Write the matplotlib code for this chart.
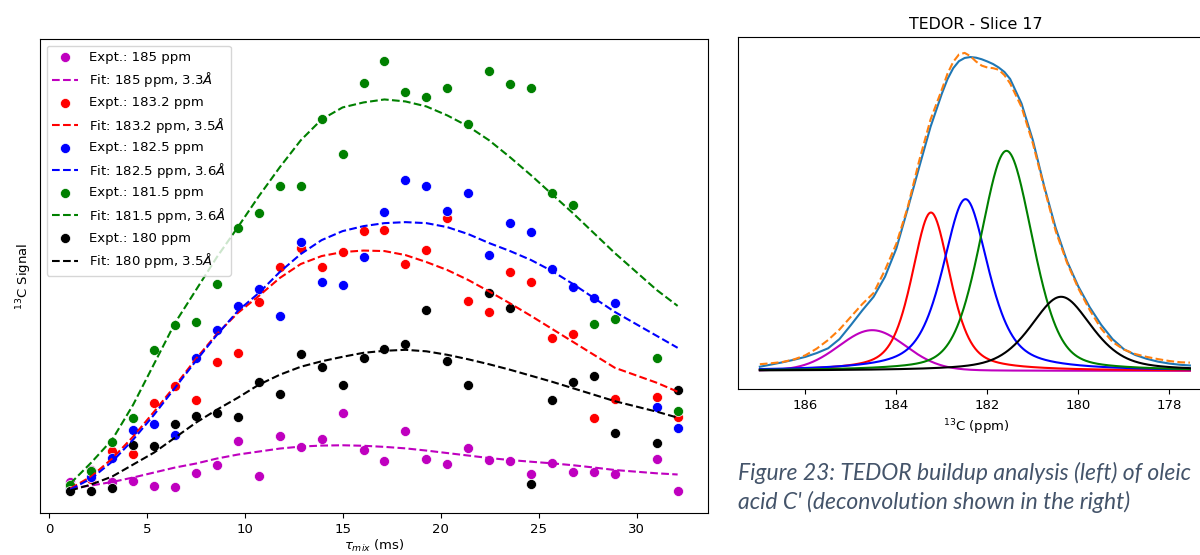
import numpy as np
import matplotlib
matplotlib.use("Agg")
import matplotlib.pyplot as plt

plt.rcParams["font.size"] = 9.5

# TEDOR mixing times (ms)
tau = [1.07, 2.14, 3.21, 4.28, 5.35, 6.42, 7.49, 8.56, 9.63, 10.70,
       11.77, 12.84, 13.91, 14.98, 16.05, 17.12, 18.19, 19.26, 20.33, 21.40,
       22.47, 23.54, 24.61, 25.68, 26.75, 27.82, 28.89, 31.03, 32.10]

# measured buildup per peak
expt_185 = [0.173, 0.30, 0.177, 0.183, 0.133, 0.123, 0.267, 0.347, 0.583, 0.23,
            0.633, 0.527, 0.607, 0.867, 0.497, 0.383, 0.69, 0.41, 0.357, 0.517,
            0.40, 0.39, 0.257, 0.363, 0.277, 0.277, 0.25, 0.403, 0.083]
expt_1832 = [0.13, 0.207, 0.483, 0.46, 0.967, 1.14, 1.00, 1.373, 1.467, 1.977,
             2.333, 2.517, 2.333, 2.48, 2.69, 2.70, 2.357, 2.50, 2.817, 1.99,
             1.883, 2.277, 2.18, 1.623, 1.657, 0.817, 1.01, 1.027, 0.823]
expt_1825 = [0.11, 0.22, 0.417, 0.70, 0.757, 0.643, 1.417, 1.70, 1.94, 2.107,
             1.84, 2.577, 2.183, 2.153, 2.433, 2.877, 3.207, 3.147, 2.887, 3.077,
             2.45, 2.77, 2.677, 2.31, 2.133, 2.023, 1.97, 0.93, 0.717]
expt_1815 = [0.14, 0.29, 0.573, 0.817, 1.50, 1.75, 1.777, 2.16, 2.723, 2.867,
             3.14, 3.147, 3.81, 3.46, 4.177, 4.40, 4.08, 4.03, 4.127, 3.76,
             4.293, 4.167, 4.127, 3.077, 2.953, 1.76, 1.807, 1.42, 0.883]
expt_180 = [0.08, 0.08, 0.11, 0.543, 0.537, 0.757, 0.833, 0.863, 0.827, 1.18,
            1.057, 1.46, 1.323, 1.15, 1.413, 1.507, 1.557, 1.903, 1.39, 1.15,
            2.073, 1.923, 0.15, 1.00, 1.18, 1.237, 0.67, 0.567, 1.093]

# fitted buildup curves at the same mixing times
fit_185 = [0.11, 0.14, 0.175, 0.22, 0.27, 0.32, 0.36, 0.41, 0.45, 0.48,
           0.51, 0.53, 0.54, 0.543, 0.538, 0.527, 0.512, 0.49, 0.465, 0.44,
           0.415, 0.395, 0.378, 0.362, 0.343, 0.32, 0.295, 0.262, 0.25]
fit_1832 = [0.11, 0.23, 0.41, 0.63, 0.88, 1.14, 1.41, 1.66, 1.87, 2.04,
            2.22, 2.36, 2.44, 2.48, 2.495, 2.49, 2.45, 2.38, 2.30, 2.20,
            2.085, 1.965, 1.84, 1.71, 1.58, 1.45, 1.32, 1.17, 1.08]
fit_1825 = [0.10, 0.21, 0.38, 0.60, 0.85, 1.12, 1.39, 1.65, 1.89, 2.07,
            2.28, 2.46, 2.60, 2.69, 2.74, 2.77, 2.78, 2.77, 2.73, 2.66,
            2.57, 2.49, 2.40, 2.29, 2.16, 2.02, 1.88, 1.64, 1.52]
fit_1815 = [0.16, 0.37, 0.60, 0.95, 1.36, 1.77, 2.10, 2.43, 2.73, 3.04,
            3.33, 3.60, 3.81, 3.93, 3.98, 4.01, 3.99, 3.94, 3.85, 3.74,
            3.60, 3.43, 3.25, 3.06, 2.87, 2.67, 2.47, 2.10, 1.94]
fit_180 = [0.09, 0.15, 0.23, 0.35, 0.47, 0.62, 0.77, 0.90, 1.02, 1.15,
           1.25, 1.33, 1.385, 1.43, 1.47, 1.49, 1.50, 1.485, 1.45, 1.405,
           1.355, 1.30, 1.24, 1.18, 1.115, 1.05, 0.985, 0.88, 0.82]

peaks = ["185", "183.2", "182.5", "181.5", "180"]
dists = ["3.3", "3.5", "3.6", "3.6", "3.5"]
colors = ["m", "r", "b", "g", "k"]
expts = [expt_185, expt_1832, expt_1825, expt_1815, expt_180]
fits = [fit_185, fit_1832, fit_1825, fit_1815, fit_180]

# slice 17 spectrum: total and fitted sum
ppm_pts = [187.0, 186.75, 186.5, 186.25, 186.0, 185.75, 185.5, 185.25, 185.0, 184.75,
           184.5, 184.25, 184.0, 183.75, 183.5, 183.25, 183.0, 182.875, 182.75, 182.625,
           182.5, 182.375, 182.25, 182.125, 182.0, 181.875, 181.75, 181.625, 181.5, 181.25,
           181.0, 180.75, 180.5, 180.25, 180.0, 179.75, 179.5, 179.25, 179.0, 178.75,
           178.5, 178.25, 178.0, 177.75, 177.55]
spec_total = [0.013, 0.02, 0.027, 0.035, 0.044, 0.056, 0.071, 0.10, 0.144, 0.19,
              0.233, 0.296, 0.385, 0.51, 0.64, 0.767, 0.872, 0.918, 0.952, 0.974,
              0.984, 0.987, 0.985, 0.98, 0.973, 0.965, 0.954, 0.94, 0.918, 0.841,
              0.725, 0.58, 0.45, 0.345, 0.265, 0.20, 0.145, 0.10, 0.068, 0.05,
              0.038, 0.029, 0.023, 0.019, 0.017]
spec_fit = [0.021, 0.024, 0.028, 0.036, 0.049, 0.07, 0.097, 0.13, 0.17, 0.21,
            0.245, 0.317, 0.40, 0.515, 0.66, 0.79, 0.885, 0.935, 0.972, 0.995,
            1.0, 0.99, 0.973, 0.96, 0.954, 0.952, 0.947, 0.93, 0.904, 0.83,
            0.715, 0.575, 0.44, 0.34, 0.259, 0.191, 0.133, 0.091, 0.067, 0.053,
            0.044, 0.037, 0.031, 0.027, 0.026]

# deconvolution components (pseudo-Voigt): centre, height, fwhm, lorentz fraction
comp_center = [184.53, 183.24, 182.48, 181.58, 180.38]
comp_height = [0.128, 0.498, 0.54, 0.692, 0.233]
comp_fwhm = [1.75, 1.0, 1.2, 1.35, 1.6]
comp_eta = [0.1, 0.5, 0.6, 0.3, 0.5]


def pvoigt(x, c, h, w, eta):
    d = (x - c) / w
    lor = 1.0 / (1.0 + 4.0 * d ** 2)
    gau = np.exp(-4.0 * np.log(2) * d ** 2)
    return h * (eta * lor + (1 - eta) * gau)


fig = plt.figure(figsize=(12, 5.55), dpi=100)

ax = fig.add_axes([40 / 1200, 42 / 555, 668 / 1200, 474 / 555])
for p, d, c, e, f in zip(peaks, dists, colors, expts, fits):
    ax.scatter(tau, e, s=52, color=c, edgecolors="white", linewidths=0.5,
               label="Expt.: %s ppm" % p)
    ax.plot(tau, f, "--", color=c, label=r"Fit: %s ppm, %s$\mathit{\AA}$" % (p, d))
ax.set_yticks([])
ax.set_xlabel(r"$\tau_{mix}$ (ms)", labelpad=1.5)
ax.set_ylabel(r"$^{13}$C Signal")
ax.legend(loc="upper left")

ax2 = fig.add_axes([738 / 1200, 166 / 555, 476 / 1200, 352 / 555])
ax2.plot(ppm_pts, spec_total, color="C0")
ax2.plot(ppm_pts, spec_fit, "--", color="C1")
grid = np.linspace(187.0, 177.55, 600)
for c, h, w, eta, col in zip(comp_center, comp_height, comp_fwhm, comp_eta, colors):
    ax2.plot(grid, pvoigt(grid, c, h, w, eta), color=col)
ax2.set_xlim(187.48, 177.02)
ax2.set_ylim(-0.057, 1.05)
ax2.set_xticks([186, 184, 182, 180, 178])
ax2.set_yticks([])
ax2.set_xlabel(r"$^{13}$C (ppm)")
ax2.set_title("TEDOR - Slice 17")

fig.text(738 / 1200, 75 / 555, "Figure 23: TEDOR buildup analysis (left) of oleic",
         fontsize=16.5, style="italic", family="Lato", color="#44546A")
fig.text(738 / 1200, 46 / 555, "acid C' (deconvolution shown in the right)",
         fontsize=16.5, style="italic", family="Lato", color="#44546A")

fig.savefig("out.png", dpi=100)
